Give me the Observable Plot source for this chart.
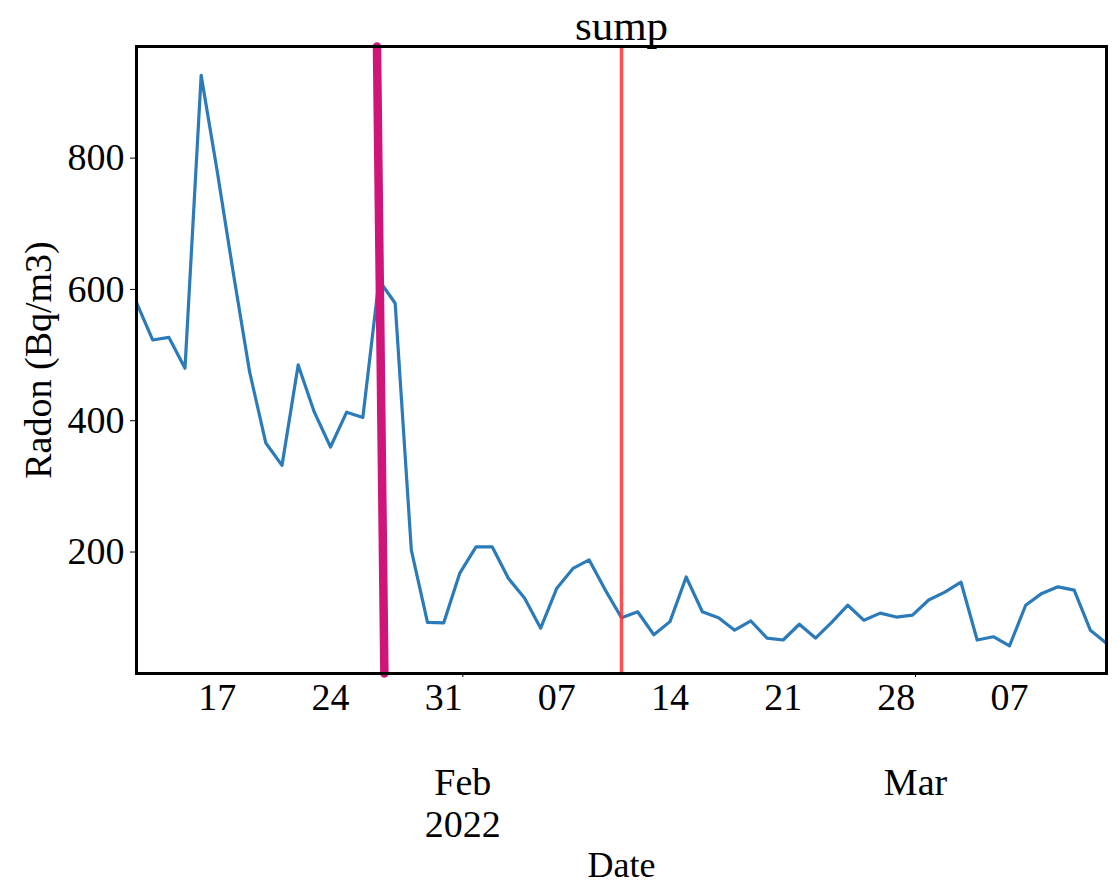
<!DOCTYPE html>
<html><head><meta charset="utf-8">
<script src="https://cdn.jsdelivr.net/npm/d3@7"></script>
<script src="https://cdn.jsdelivr.net/npm/@observablehq/plot@0.6"></script>
<style>body{margin:0;background:#fff}</style>
</head><body><div id="chart"></div>
<script>
const startDate = "2022-01-12";
const endDate = "2022-03-13";
const radon = [580,523,527,480,926,779,623,474,366,332,
  485,413,360,413,405,614,579,203,93,92,
  168,208,208,160,130,84,145,175,188,142,
  100,109,74,94,162,109,100,81,95,69,
  66,90,69,93,119,96,107,101,104,127,
  139,154,66,71,57,119,137,147,142,81,61];
const weekTicks = ["2022-01-17","2022-01-24","2022-01-31","2022-02-07","2022-02-14","2022-02-21","2022-02-28","2022-03-07"];
const monthTicks = ["2022-02-01","2022-03-01"];
const monthLabels = ["Feb\n2022","Mar"];
const yTicks = [200,400,600,800];
const yDomain = [15,970];
const slantLine = [{top:"2022-01-26T21:00Z", bottom:"2022-01-27T08:00Z"}];
const redLine = ["2022-02-11"];

const start = new Date(startDate);
const data = radon.map((v,i)=>({date: d3.utcDay.offset(start,i), radon: v}));
const fmtISO = d3.utcFormat("%Y-%m-%d");

const chart = Plot.plot({
  width:1120, height:886,
  marginLeft:136, marginRight:14, marginTop:46, marginBottom:213,
  style:{fontFamily:"'Liberation Serif','Times New Roman',serif", fontSize:"38px", color:"#000", background:"#fff"},
  x:{type:"utc", domain:[start, new Date(endDate)]},
  y:{domain:yDomain},
  marks:[
    Plot.line(data,{x:"date", y:"radon", stroke:"#2b7bba", strokeWidth:3.2}),
    Plot.ruleX(redLine.map(d=>new Date(d)), {stroke:"#ff3030", strokeOpacity:0.85, strokeWidth:3.5}),
    Plot.link(slantLine, {x1:d=>new Date(d.top), y1:()=>yDomain[1], x2:d=>new Date(d.bottom), y2:()=>yDomain[0], stroke:"#d0157a", strokeWidth:8.5, strokeLinecap:"round"}),
    Plot.axisY({ticks:yTicks, tickSize:6, tickPadding:6, label:null, fontSize:38}),
    Plot.axisX({ticks:weekTicks.map(d=>new Date(d)), tickFormat:d3.utcFormat("%d"), tickSize:0, tickPadding:10, label:null, fontSize:38}),
    Plot.axisX({ticks:monthTicks.map(d=>new Date(d)), tickFormat:d=>monthLabels[monthTicks.indexOf(fmtISO(d))], tickSize:4, tickPadding:88, label:null, fontSize:38, lineHeight:1.1, dx:3}),
    Plot.frame({stroke:"#000", strokeWidth:3}),
    Plot.text(["sump"], {frameAnchor:"top", lineAnchor:"middle", textAnchor:"middle", dy:-20, fontSize:43}),
    Plot.text(["Radon (Bq/m3)"], {frameAnchor:"left", lineAnchor:"middle", textAnchor:"middle", rotate:-90, dx:-98, fontSize:38}),
    Plot.text(["Date"], {frameAnchor:"bottom", lineAnchor:"middle", textAnchor:"middle", dy:192, fontSize:36})
  ]
});
document.getElementById("chart").append(chart);
</script>
</body></html>
